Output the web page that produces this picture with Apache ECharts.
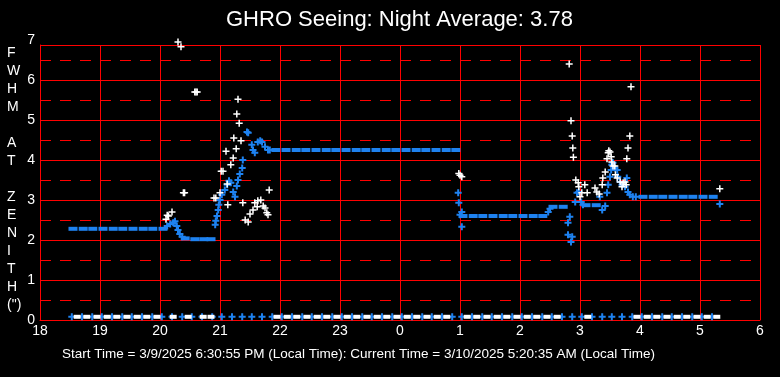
<!DOCTYPE html>
<html>
  <head>
    <meta charset="utf-8">
    <title>GHRO Seeing</title>
    <script src="https://cdn.jsdelivr.net/npm/echarts@6/dist/echarts.min.js"></script>
    <style>html,body{margin:0;background:#000}</style>
  </head>
  <body>
    <div id="main" style="width: 780px; height: 377px"></div>
    <script>
      // times are hours after midnight of the start day (24 = 0:00, 29.33 = 5:20)
      var blueRunTimes = [18.55, 18.72, 18.88, 19.05, 19.22, 19.38, 19.55, 19.72, 19.88, 20.05,
        20.42, 20.58, 20.73, 20.85,
        21.93, 22.1, 22.27, 22.43, 22.6, 22.77, 22.93, 23.1, 23.27, 23.43, 23.6, 23.77, 23.93, 24.1, 24.27, 24.43, 24.6, 24.77, 24.93,
        25.05, 25.22, 25.38, 25.55, 25.72, 25.88, 26.05, 26.22, 26.38,
        26.55, 26.72,
        27.1, 27.27,
        28.05, 28.22, 28.38, 28.55, 28.72, 28.88, 29.05, 29.22];
      var blueRunValues = [2.28, 2.28, 2.28, 2.28, 2.28, 2.28, 2.28, 2.28, 2.28, 2.28,
        2.04, 2.02, 2.02, 2.02,
        4.25, 4.25, 4.25, 4.25, 4.25, 4.25, 4.25, 4.25, 4.25, 4.25, 4.25, 4.25, 4.25, 4.25, 4.25, 4.25, 4.25, 4.25, 4.25,
        2.6, 2.6, 2.6, 2.6, 2.6, 2.6, 2.6, 2.6, 2.6,
        2.83, 2.83,
        2.87, 2.87,
        3.08, 3.08, 3.08, 3.08, 3.08, 3.08, 3.08, 3.08];

      var blueTimes = [20.12, 20.17, 20.22, 20.25, 20.28, 20.3, 20.33, 20.37,
        20.92, 20.93, 20.95, 20.97, 20.98, 21.0, 21.03, 21.08, 21.12, 21.15, 21.18, 21.22, 21.25, 21.28, 21.3, 21.33, 21.37, 21.38,
        21.45, 21.47, 21.53, 21.55, 21.58, 21.63, 21.67, 21.7, 21.75, 21.8, 21.83,
        24.97, 24.98, 25.0, 25.03, 25.03,
        26.47, 26.5, 26.8, 26.83, 26.8, 26.87, 26.85, 26.92, 26.95, 26.98, 27.02, 27.05,
        27.33, 27.37, 27.42, 27.45, 27.47, 27.5, 27.52, 27.53, 27.55, 27.58, 27.62, 27.63, 27.67, 27.7, 27.75, 27.78, 27.8, 27.83, 27.88, 27.93,
        29.33];
      var blueValues = [2.35, 2.4, 2.43, 2.47, 2.35, 2.25, 2.15, 2.08,
        2.38, 2.48, 2.6, 2.75, 2.88, 3.0, 3.13, 3.25, 3.38, 3.48, 3.43, 3.2, 3.08, 3.35, 3.5, 3.65, 3.8, 4.0,
        4.7, 4.68, 4.38, 4.25, 4.18, 4.45, 4.48, 4.45, 4.33, 4.25, 4.25,
        3.18, 2.93, 2.63, 2.7, 2.33,
        2.7, 2.78, 2.43, 2.58, 2.13, 2.08, 1.95, 2.95, 3.18, 3.2, 2.95, 2.88,
        3.08, 2.75, 2.85, 3.18, 3.38, 3.58, 3.75, 3.88, 3.93, 3.8, 3.75, 3.58, 3.45, 3.38, 3.33, 3.55, 3.2, 3.13, 3.08, 3.08,
        2.9];

      var whiteTimes = [20.1, 20.12, 20.14, 20.2, 20.3, 20.35, 20.39, 20.41, 20.58, 20.6, 20.62,
        20.9, 20.93, 21.0, 21.02, 21.05, 21.1, 21.12, 21.13, 21.18, 21.22, 21.23, 21.27, 21.28, 21.3, 21.32, 21.35,
        21.38, 21.42, 21.47, 21.5, 21.55, 21.58, 21.62, 21.63, 21.68, 21.72, 21.75, 21.78, 21.8, 21.82,
        24.98, 25.0, 25.03,
        26.82, 26.85, 26.87, 26.88, 26.89, 26.93, 26.97, 26.98, 27.0, 27.03, 27.08, 27.12,
        27.25, 27.28, 27.32, 27.37, 27.38, 27.42, 27.45, 27.47, 27.48, 27.5, 27.52, 27.53, 27.55, 27.58, 27.59,
        27.62, 27.67, 27.7, 27.72, 27.75, 27.77, 27.78, 27.8, 27.83, 27.85,
        29.33];
      var whiteValues = [2.52, 2.62, 2.6, 2.7, 6.95, 6.83, 3.18, 3.18, 5.7, 5.7, 5.7,
        3.05, 3.05, 3.18, 3.72, 3.72, 4.22, 3.4, 2.88, 3.88, 4.05, 4.55, 4.28, 5.15, 5.52, 4.92, 4.48,
        2.93, 2.5, 2.45, 2.65, 2.75, 2.93, 2.83, 2.98, 3.0, 2.85, 2.8, 2.68, 2.63, 3.25,
        3.66, 3.62, 3.58,
        6.4, 4.98, 4.6, 4.3, 4.07, 3.5, 3.43, 3.33, 3.08, 3.18, 3.38, 3.18,
        3.3, 3.2, 3.15, 3.38, 3.55, 3.7, 4.03, 4.18, 4.23, 4.2, 4.08, 3.95, 3.85, 3.85, 3.63,
        3.55, 3.45, 3.33, 3.43, 3.45, 3.38, 4.03, 4.3, 4.6, 5.83,
        3.28];

      // readings that came back as zero, drawn along the floor of the chart
      var zeroLevel = 0.08;
      var blueZeroTimes = [18.53, 18.7, 18.87, 19.03, 19.2, 19.37, 19.53, 19.7, 19.87, 20.03, 20.2, 20.37, 20.53, 20.7, 20.87,
        21.03, 21.2, 21.37, 21.53, 21.7, 21.87, 22.03, 22.2, 22.37, 22.53, 22.7, 22.87, 23.03, 23.2, 23.37, 23.53, 23.7, 23.87,
        24.03, 24.2, 24.37, 24.53, 24.7, 24.87, 25.03, 25.2, 25.37, 25.53, 25.7, 25.87, 26.03, 26.2, 26.37, 26.53, 26.7, 26.87,
        27.03, 27.2, 27.37, 27.53, 27.7, 27.87, 28.03, 28.2, 28.37, 28.53, 28.7, 28.87, 29.03, 29.2];
      var whiteZeroTimes = [18.62, 18.78, 18.95, 19.12, 19.28, 19.45, 19.62, 19.78, 19.95, 20.22, 20.47, 20.72, 20.85,
        21.95, 22.12, 22.28, 22.45, 22.62, 22.78, 22.95, 23.12, 23.28, 23.45, 23.62, 23.78, 23.95, 24.12, 24.28, 24.45, 24.62, 24.78,
        25.12, 25.28, 25.45, 25.62, 25.78, 25.95, 26.12, 26.28, 26.45, 26.62, 27.13,
        27.95, 28.12, 28.28, 28.45, 28.62, 28.78, 28.95, 29.12, 29.28];

      var title = 'GHRO Seeing: Night Average: 3.78';
      var footer = 'Start Time = 3/9/2025 6:30:55 PM (Local Time): Current Time = 3/10/2025 5:20:35 AM (Local Time)';
      var yName = 'F\nW\nH\nM\n\nA\nT\n\nZ\nE\nN\nI\nT\nH\n(")';

      var BLUE = '#1e82f0';
      var RED = '#ff0000';
      var FONT = 'Liberation Sans, Arial, sans-serif';
      var plusBlue = 'path://M2.5,0h2v2.5h2.5v2h-2.5v2.5h-2v-2.5h-2.5v-2h2.5z';
      var plusWhite = 'path://M2.75,0h1.5v2.75h2.75v1.5h-2.75v2.75h-1.5v-2.75h-2.75v-1.5h2.75z';

      function pairs(ts, vs) {
        return ts.map(function (t, i) { return [t, vs[i]]; });
      }
      function floorRow(ts) {
        return ts.map(function (t) { return [t, zeroLevel]; });
      }

      var myChart = echarts.init(document.getElementById('main'));
      var option = {
        backgroundColor: '#000',
        animation: false,
        title: {
          text: title,
          left: 226,
          top: 9,
          padding: 0,
          textStyle: { color: '#fff', fontSize: 22, fontWeight: 'normal', fontFamily: FONT }
        },
        grid: { left: 40, right: 20, top: 45, bottom: 57 },
        xAxis: {
          type: 'value', min: 18, max: 30, interval: 1,
          axisLine: { lineStyle: { color: RED, width: 1 } },
          axisTick: { show: false },
          axisLabel: {
            color: '#fff', fontSize: 14, fontFamily: FONT, margin: 4,
            formatter: function (v) { return String(v % 24); }
          },
          splitLine: { lineStyle: { color: RED, width: 1 } }
        },
        yAxis: [{
          type: 'value', position: 'left', min: 0, max: 6.875, interval: 0.5,
          axisLine: { show: false }, axisTick: { show: false }, axisLabel: { show: false },
          splitLine: { showMaxLine: false, lineStyle: { color: RED, width: 1, type: [11, 9] } }
        }, {
          type: 'value', position: 'left', offset: 0, min: 0, max: 6.875, interval: 1,
          axisLine: { show: true, lineStyle: { color: RED, width: 1 } },
          axisTick: { show: false },
          axisLabel: {
            color: '#fff', fontSize: 14, fontFamily: FONT, margin: 5,
            formatter: function (v) { return v > 6.5 ? '{t|7}' : String(v); },
            rich: { t: { color: '#fff', fontSize: 14, fontFamily: FONT, padding: [0, 0, 10, 0] } }
          },
          splitLine: { lineStyle: { color: RED, width: 1 } }
        }],
        graphic: [{
          type: 'text', left: 7, top: 44,
          style: { text: yName, fill: '#fff', font: '14px ' + FONT, lineHeight: 18, align: 'center', width: 14 }
        }, {
          type: 'text', left: 62, top: 347,
          style: { text: footer, fill: '#fff', font: '13.5px ' + FONT }
        }],
        series: [{
          type: 'scatter', yAxisIndex: 1, clip: false,
          symbol: 'rect', symbolSize: [9, 4],
          itemStyle: { color: BLUE, opacity: 1 },
          data: pairs(blueRunTimes, blueRunValues)
        }, {
          type: 'scatter', yAxisIndex: 1, clip: false,
          symbol: plusBlue, symbolSize: 7,
          itemStyle: { color: BLUE, opacity: 1 },
          data: pairs(blueTimes, blueValues)
        }, {
          type: 'scatter', yAxisIndex: 1, clip: false,
          symbol: plusWhite, symbolSize: 7,
          itemStyle: { color: '#fff', opacity: 1 },
          data: pairs(whiteTimes, whiteValues)
        }, {
          type: 'scatter', yAxisIndex: 1, clip: false,
          symbol: plusBlue, symbolSize: 7,
          itemStyle: { color: BLUE, opacity: 1 },
          data: floorRow(blueZeroTimes)
        }, {
          type: 'scatter', yAxisIndex: 1, clip: false,
          symbol: 'rect', symbolSize: [7, 4],
          itemStyle: { color: '#fff', opacity: 1 },
          data: floorRow(whiteZeroTimes)
        }]
      };
      myChart.setOption(option);
    </script>
  </body>
</html>
